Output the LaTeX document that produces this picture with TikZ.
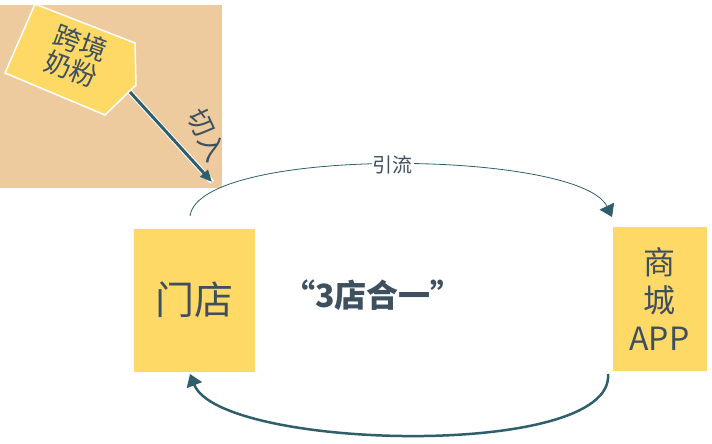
\documentclass[tikz,border=0pt]{standalone}
\usepackage{fontspec}
\newfontfamily\cjk{Noto Sans CJK SC}
\usetikzlibrary{arrows.meta}
\definecolor{tan}{HTML}{EECA9F}
\definecolor{gold}{HTML}{FFD966}
\definecolor{slate}{HTML}{3E505E}
\definecolor{tealdark}{HTML}{2E5F6B}
\tikzset{
  goldbox/.style={fill=gold, draw=white, line width=1pt, align=center, text=slate},
  loop/.style={draw=tealdark, line width=2.5pt, -{Triangle[length=12pt,width=16pt]}},
  loopthin/.style={draw=tealdark, line width=0.8pt, -{Triangle[length=12pt,width=16pt]}},
}
\begin{document}
\begin{tikzpicture}[x=1pt,y=-1pt,font=\cjk]
\useasboundingbox (0,0) rectangle (712,444);
%Background
\fill[tan] (0,5) rectangle (222,188);
%Tag
\filldraw[fill=gold, draw=white, line width=1.5pt]
  (35,4) -- (135,43) -- (136,85) -- (105,115) -- (5,73) -- cycle;
\node[text=slate, rotate=-20, align=center, inner sep=0pt, font=\cjk\fontsize{27}{28}\selectfont] (tag) at (76,56) {跨境\\奶粉};
\coordinate (tagtip) at (130,92);
\coordinate (entry) at (212,182);
\draw[white, line width=5pt] (tagtip) -- (entry);
\draw[tealdark, line width=3pt, -{Triangle[length=12pt,width=10pt]}] (tagtip) -- (entry);
\node[text=slate, rotate=-65, inner sep=0pt, font=\cjk\fontsize{27}{28}\selectfont] (cut) at (207,135) {切入};
%Boxes
\node[goldbox, minimum width=122pt, minimum height=144pt, font=\cjk\fontsize{39}{40}\selectfont] (store) at (194,300) {门店};
\node[goldbox, minimum width=95pt, minimum height=145pt, font=\cjk\fontsize{32}{38}\selectfont] (mall) at (659.5,298.5) {商\\城\\APP};
\node[text=slate, font=\cjk\bfseries\fontsize{32}{34}\selectfont] (title) at (373,295) {“3店合一”};
%Loops
\draw[loopthin] (190,216) .. controls (200,145) and (580,150) .. (612,217) node[pos=0.5, fill=white, text=slate, font=\cjk\fontsize{20}{22}\selectfont, inner sep=1pt] (flow) {引流};
\draw[loop] (608,374) .. controls (615,460) and (220,450) .. (190,374);
\end{tikzpicture}
\end{document}
